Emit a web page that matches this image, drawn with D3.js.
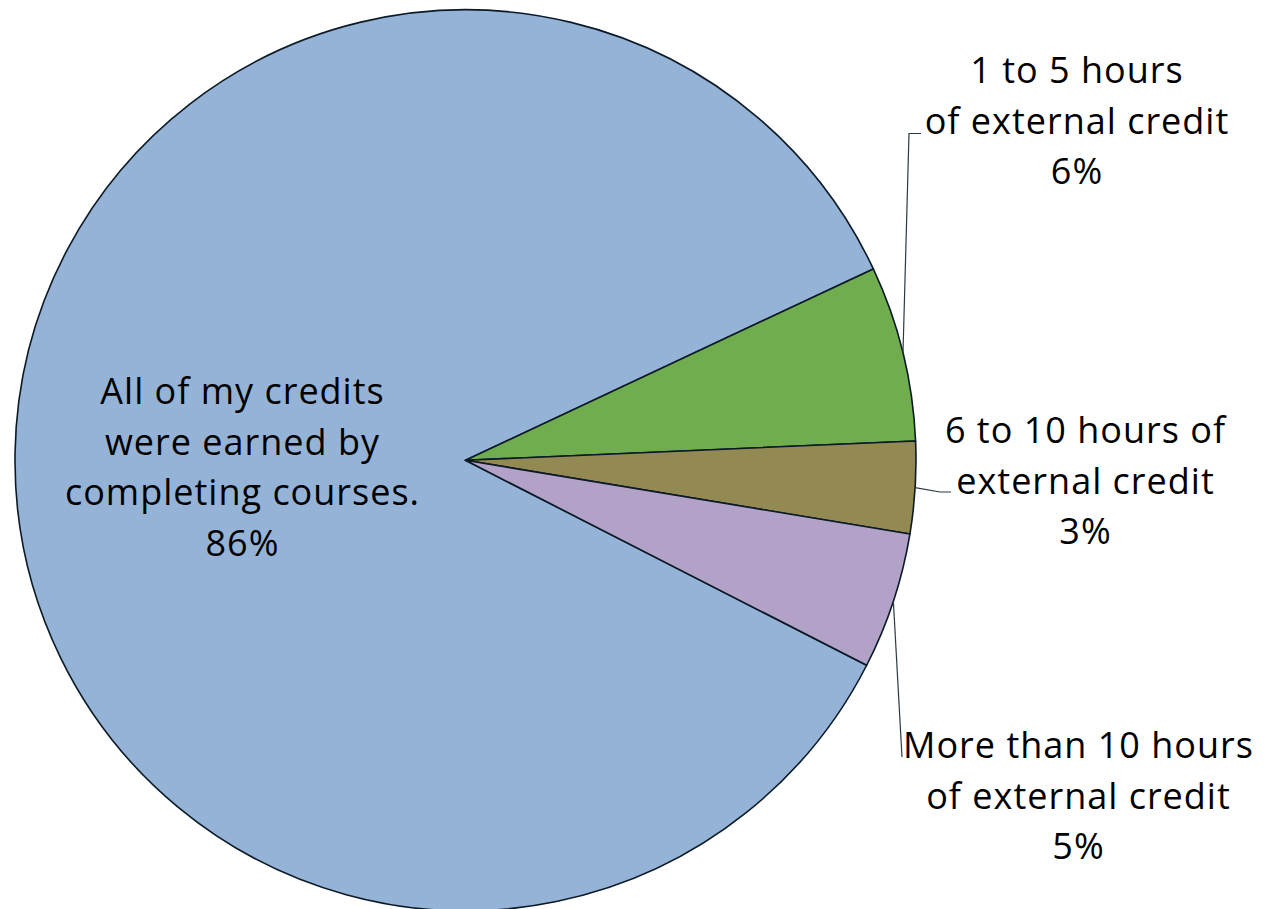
<!DOCTYPE html>
<html>
<head>
<meta charset="utf-8">
<script src="https://cdn.jsdelivr.net/npm/d3@7"></script>
<style>
  html, body { margin: 0; padding: 0; background: #fff; }
  svg { display: block; }
  text { font-family: "Open Sans", "Noto Sans", sans-serif; fill: #000; }
</style>
</head>
<body>
<svg id="chart" width="1265" height="909"></svg>
<script>
// ---- data ----
const categories = [
  "All of my credits were earned by completing courses.",
  "1 to 5 hours of external credit",
  "6 to 10 hours of external credit",
  "More than 10 hours of external credit"
];
const values = [85.5, 6.3, 3.3, 4.9];
const percentLabels = ["86%", "6%", "3%", "5%"];
const labelLines = [
  ["All of my credits", "were earned by", "completing courses.", "86%"],
  ["1 to 5 hours", "of external credit", "6%"],
  ["6 to 10 hours of", "external credit", "3%"],
  ["More than 10 hours", "of external credit", "5%"]
];
const colors = ["#95B3D7", "#70AD4F", "#938953", "#B3A2C7"];

// ---- layout ----
const W = 1265, H = 909;
const cx = 465.5, cy = 460.3, R = 450.5;
const startDeg = 117.06;
const fontSize = 36, lineH = 50.5, letterSp = 1;
// label anchor: center x and first baseline y
const labelPos = [
  { x: 242.5, y: 404 },
  { x: 1077, y: 83 },
  { x: 1085.5, y: 443 },
  { x: 1078.5, y: 758 }
];
// leader line bend/end points (for outside labels)
const leaders = [
  null,
  { bend: [909, 133.5], end: [921, 133.5] },
  { bend: [940, 492], end: [951, 492] },
  { bend: [902, 757], end: null }
];

const svg = d3.select("#chart");
const g = svg.append("g").attr("transform", `translate(${cx},${cy})`);

const start = startDeg * Math.PI / 180;
const pie = d3.pie().sort(null).value(d => d).startAngle(start).endAngle(start + 2 * Math.PI);
const arcs = pie(values);
const arc = d3.arc().innerRadius(0).outerRadius(R);

g.selectAll("path.slice")
  .data(arcs)
  .join("path")
  .attr("class", "slice")
  .attr("d", arc)
  .attr("fill", (d, i) => colors[i])
  .attr("stroke", "#0a1a26")
  .attr("stroke-width", 1.6)
  .attr("stroke-linejoin", "round");

// leader lines
arcs.forEach((d, i) => {
  const L = leaders[i];
  if (!L) return;
  const mid = (d.startAngle + d.endAngle) / 2;
  const px = cx + R * Math.sin(mid), py = cy - R * Math.cos(mid);
  const pts = [[px, py], L.bend];
  if (L.end) pts.push(L.end);
  svg.append("path")
    .attr("d", d3.line()(pts))
    .attr("fill", "none")
    .attr("stroke", "#2b3a44")
    .attr("stroke-width", 1.2);
});

// labels
labelLines.forEach((lines, i) => {
  const t = svg.append("text")
    .attr("text-anchor", "middle")
    .attr("font-size", fontSize)
    .attr("letter-spacing", letterSp);
  lines.forEach((ln, j) => {
    t.append("tspan")
      .attr("x", labelPos[i].x)
      .attr("y", labelPos[i].y + j * lineH)
      .text(ln);
  });
});
</script>
</body>
</html>
